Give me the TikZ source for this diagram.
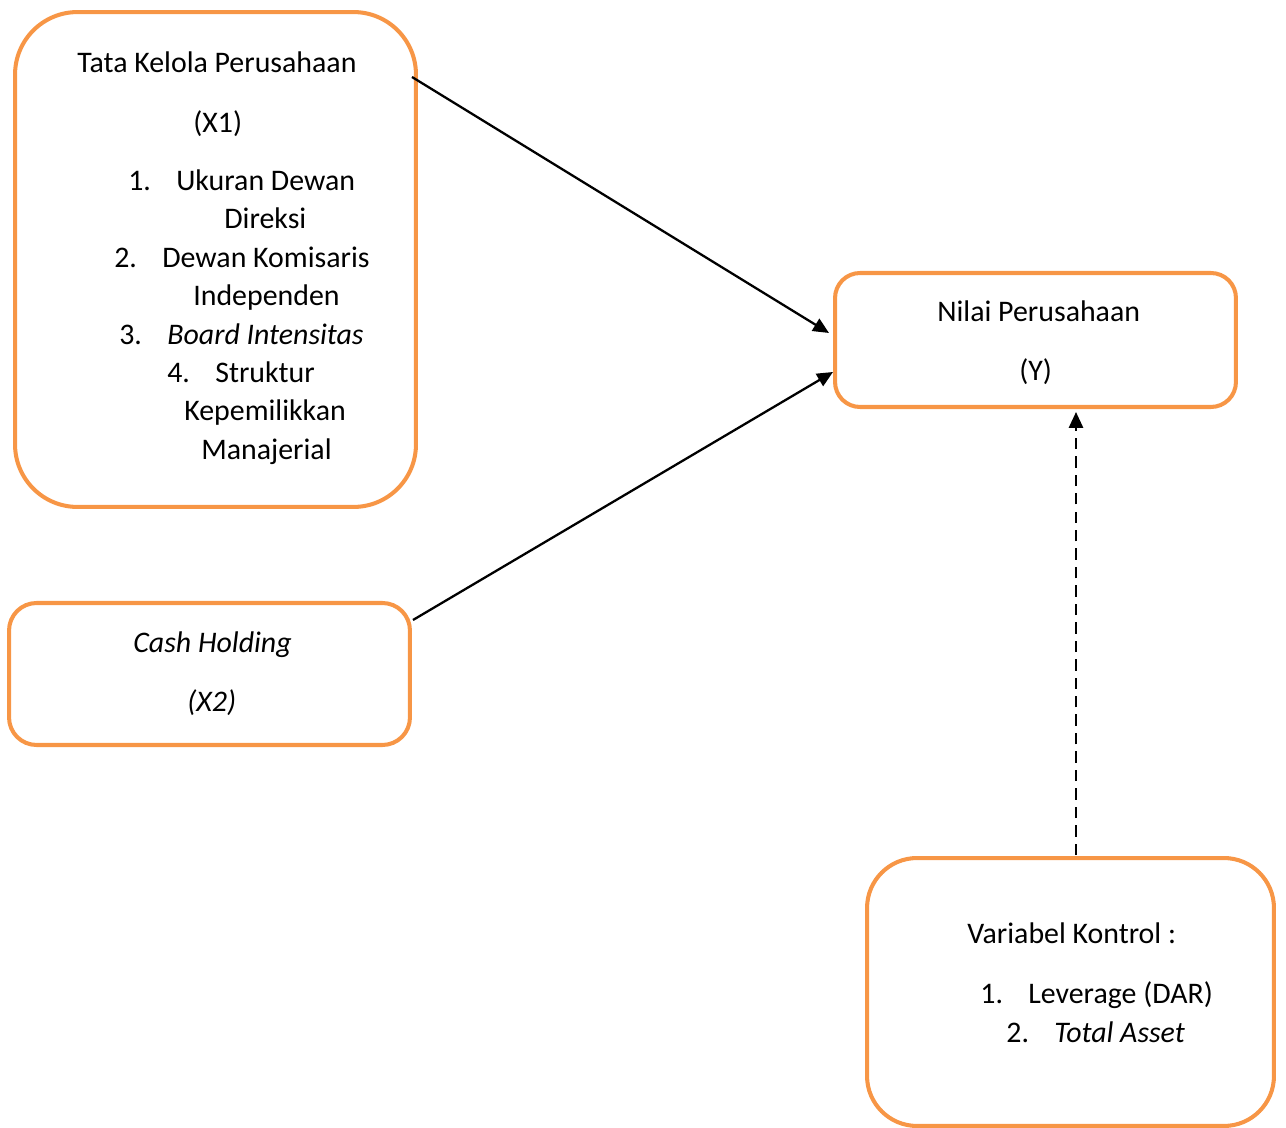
\documentclass[tikz,border=0pt]{standalone}
\usepackage{fontspec}
\setmainfont{Carlito}
\usetikzlibrary{arrows.meta}
\definecolor{boxorange}{HTML}{F79646}
\newcommand{\numitem}[1]{\makebox[0.96cm][l]{#1}}

\begin{document}
\begin{tikzpicture}[x=0.02cm, y=-0.02cm,
    varbox/.style={draw=boxorange, line width=2.3pt, rectangle, inner sep=0pt},
    txt/.style={anchor=base west, inner sep=0pt},
    link/.style={line width=1.3pt, -{Triangle[length=9pt,width=8pt]}},
    every node/.style={font=\fontsize{17pt}{20pt}\selectfont}]
      \useasboundingbox (0,0) rectangle (1286,1128);

      % boxes
      \node[varbox, rounded corners=1.25cm, minimum width=8.02cm, minimum height=9.9cm] (x1) at (215.5,259.5) {};
      \node[varbox, rounded corners=0.55cm, minimum width=8.02cm, minimum height=2.84cm] (x2) at (209.5,674) {};
      \node[varbox, rounded corners=0.5cm, minimum width=8.02cm, minimum height=2.68cm] (y) at (1035.5,340) {};
      \node[varbox, rounded corners=1cm, minimum width=8.14cm, minimum height=5.36cm] (ctrl) at (1070.5,992) {};

      % texts of X1
      \node[txt] (x1t) at (77,73)   {Tata Kelola Perusahaan};
      \node[txt] (x1v) at (193,133) {(X1)};
      \node[txt] (x1a) at (128,191) {\numitem{1.}Ukuran Dewan};
      \node[txt] (x1b) at (224,229) {Direksi};
      \node[txt] (x1c) at (114,268) {\numitem{2.}Dewan Komisaris};
      \node[txt] (x1d) at (193,306) {Independen};
      \node[txt] (x1e) at (119,345) {\numitem{3.}\textit{Board Intensitas}};
      \node[txt] (x1f) at (167,383) {\numitem{4.}Struktur};
      \node[txt] (x1g) at (184,421) {Kepemilikkan};
      \node[txt] (x1h) at (201,460) {Manajerial};

      % texts of X2
      \node[txt] (x2t) at (133,653) {\textit{Cash Holding}};
      \node[txt] (x2v) at (187,712) {\textit{(X2)}};

      % texts of Y
      \node[txt] (yt) at (937,322)  {Nilai Perusahaan};
      \node[txt] (yv) at (1019,381) {(Y)};

      % texts of control
      \node[txt] (ct) at (967,943)  {Variabel Kontrol :};
      \node[txt] (ca) at (980,1003) {\numitem{1.}Leverage (DAR)};
      \node[txt] (cb) at (1006,1042) {\numitem{2.}\textit{Total Asset}};

      % connector ends
      \coordinate (x1out) at (412,77);
      \coordinate (x2out) at (413,620);
      \coordinate (yin1)  at (829,333);
      \coordinate (yin2)  at (833,372);
      \coordinate (yin3)  at (1076,412);
      \coordinate (cout)  at (1076,855);

      \draw[link] (x1out) -- (yin1);
      \draw[link] (x2out) -- (yin2);
      \draw[link, dash pattern=on 6.5pt off 4pt] (cout) -- (yin3);
    \end{tikzpicture}
\end{document}
